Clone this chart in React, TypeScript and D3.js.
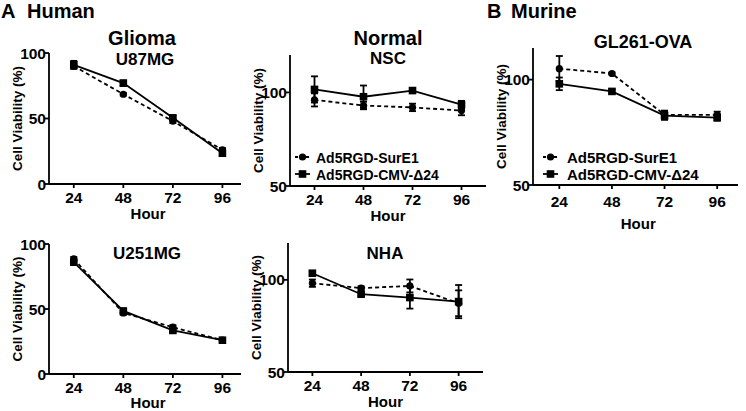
import React from "react";
import * as d3 from "d3";

const hours = [24, 48, 72, 96];
const xTickLabels = ["24", "48", "72", "96"];
const seriesNames = ["Ad5RGD-SurE1", "Ad5RGD-CMV-\u039424"];

const u87SurE1 = [90, 68.5, 48, 26];
const u87SurE1Err = [2, 1, 1.5, 1.5];
const u87Cmv = [91, 77, 50.5, 23.5];
const u87CmvErr = [3, 2, 1.5, 2];

const u251SurE1 = [88.5, 47, 36, 26];
const u251SurE1Err = [1.5, 1.5, 1.5, 1];
const u251Cmv = [86, 48.5, 33.5, 26];
const u251CmvErr = [1.5, 1.5, 1.5, 1];

const nscSurE1 = [96, 93, 92, 90.3];
const nscSurE1Err = [3.5, 2, 2, 2.5];
const nscCmv = [101.6, 97.7, 101, 93.5];
const nscCmvErr = [7, 6, 1, 2];

const nhaSurE1 = [98.2, 95.5, 96.7, 87.3];
const nhaSurE1Err = [2, 1, 3.5, 7];
const nhaCmv = [103.6, 92.2, 90.4, 88.2];
const nhaCmvErr = [1, 1, 6, 9];

const glSurE1 = [105.2, 102.9, 83.3, 83.3];
const glSurE1Err = [6, 0.5, 2, 1.5];
const glCmv = [98, 94.4, 82.9, 82];
const glCmvErr = [3, 1, 2, 1.5];

const gliomaTicks = [0, 50, 100];
const normalTicks = [50, 100];

const FONT = "'Liberation Sans', Arial, sans-serif";
const SW = 1.8;

type PanelProps = {
  left: number; right: number; top: number; bottom: number;
  xMax: number; yDomain: [number, number]; yTicks: number[];
  sure1: number[]; sure1Err: number[]; cmv: number[]; cmvErr: number[];
  title: string; titleX: number; titleY: number; titleSize: number;
  legend?: { x: number; y: number; textX: number; fontSize: number; gap: number };
  tickLabelDy: number; hourDy: number;
};

function Panel(p: PanelProps) {
  const x = d3.scaleLinear().domain([12, p.xMax]).range([p.left, p.right]);
  const y = d3.scaleLinear().domain(p.yDomain).range([p.bottom, p.top]);
  const line = d3.line<number>().x((_, i) => x(hours[i])).y((v) => y(v));
  const hourX = (x(hours[0]) + x(hours[hours.length - 1])) / 2;
  const renderSeries = (vals: number[], errs: number[], dashed: boolean, square: boolean) => (
    <g>
      <path d={line(vals) || ""} fill="none" stroke="#000" strokeWidth={SW} strokeDasharray={dashed ? "4,3" : undefined} />
      {vals.map((v, i) => {
        const cx = x(hours[i]);
        const y1 = y(v + errs[i]);
        const y2 = y(v - errs[i]);
        return (
          <g key={i}>
            <line x1={cx} x2={cx} y1={y1} y2={y2} stroke="#000" strokeWidth={SW} />
            <line x1={cx - 3.5} x2={cx + 3.5} y1={y1} y2={y1} stroke="#000" strokeWidth={SW} />
            <line x1={cx - 3.5} x2={cx + 3.5} y1={y2} y2={y2} stroke="#000" strokeWidth={SW} />
            {square ? (
              <rect x={cx - 3.8} y={y(v) - 3.8} width={7.6} height={7.6} fill="#000" />
            ) : (
              <circle cx={cx} cy={y(v)} r={3.6} fill="#000" />
            )}
          </g>
        );
      })}
    </g>
  );
  return (
    <g fontFamily={FONT} fontWeight="bold" fill="#000">
      <line x1={p.left} x2={p.left} y1={p.top} y2={p.bottom} stroke="#000" strokeWidth={SW} />
      <line x1={p.left} x2={p.right} y1={p.bottom} y2={p.bottom} stroke="#000" strokeWidth={SW} />
      {p.yTicks.map((t) => (
        <g key={t}>
          <line x1={p.left - 4} x2={p.left} y1={y(t)} y2={y(t)} stroke="#000" strokeWidth={SW} />
          <text x={p.left - 3} y={y(t) + 5.5} textAnchor="end" fontSize={15.5}>{t}</text>
        </g>
      ))}
      {hours.map((h, i) => (
        <g key={h}>
          <line x1={x(h)} x2={x(h)} y1={p.bottom} y2={p.bottom + 4} stroke="#000" strokeWidth={SW} />
          <text x={x(h)} y={p.bottom + p.tickLabelDy} textAnchor="middle" fontSize={15.5}>{xTickLabels[i]}</text>
        </g>
      ))}
      <text x={hourX} y={p.bottom + p.hourDy} textAnchor="middle" fontSize={15}>Hour</text>
      <text transform={`translate(${p.left - 27},${(p.top + p.bottom) / 2}) rotate(-90)`} textAnchor="middle" fontSize={13.5}>Cell Viability (%)</text>
      <text x={p.titleX} y={p.titleY} textAnchor="middle" fontSize={p.titleSize}>{p.title}</text>
      {renderSeries(p.sure1, p.sure1Err, true, false)}
      {renderSeries(p.cmv, p.cmvErr, false, true)}
      {p.legend && (
        <g>
          {seriesNames.map((n, i) => {
            const ly = p.legend!.y + i * p.legend!.gap;
            return (
              <g key={n}>
                <line x1={p.legend!.x} x2={p.legend!.x + 15} y1={ly} y2={ly} stroke="#000" strokeWidth={SW} strokeDasharray={i === 0 ? "3,2.5" : undefined} />
                {i === 0 ? (
                  <circle cx={p.legend!.x + 7.5} cy={ly} r={3.6} fill="#000" />
                ) : (
                  <rect x={p.legend!.x + 3.7} y={ly - 3.8} width={7.6} height={7.6} fill="#000" />
                )}
                <text x={p.legend!.textX} y={ly + 5.5} fontSize={p.legend!.fontSize}>{n}</text>
              </g>
            );
          })}
        </g>
      )}
    </g>
  );
}

export default function App() {
  return (
    <svg width={746} height={411} style={{ position: "absolute", left: 0, top: 0, background: "#fff" }}>
      <rect width={746} height={411} fill="#fff" />
      <g fontFamily={FONT} fontWeight="bold" fill="#000">
        <text x={1} y={18} fontSize={20}>A</text>
        <text x={27} y={18} fontSize={20}>Human</text>
        <text x={487} y={18} fontSize={20}>B</text>
        <text x={511} y={18} fontSize={20}>Murine</text>
        <text x={142} y={45} textAnchor="middle" fontSize={20}>Glioma</text>
        <text x={388} y={45} textAnchor="middle" fontSize={20}>Normal</text>
      </g>
      <Panel left={49} right={241} top={53} bottom={184} xMax={105} yDomain={[0, 100]} yTicks={gliomaTicks}
        sure1={u87SurE1} sure1Err={u87SurE1Err} cmv={u87Cmv} cmvErr={u87CmvErr}
        title="U87MG" titleX={145} titleY={65} titleSize={17} tickLabelDy={19} hourDy={35} />
      <Panel left={49} right={241} top={244} bottom={374} xMax={105} yDomain={[0, 100]} yTicks={gliomaTicks}
        sure1={u251SurE1} sure1Err={u251SurE1Err} cmv={u251Cmv} cmvErr={u251CmvErr}
        title="U251MG" titleX={147} titleY={259} titleSize={17} tickLabelDy={19} hourDy={34} />
      <Panel left={290} right={486} top={55} bottom={186} xMax={108} yDomain={[50, 120]} yTicks={normalTicks}
        sure1={nscSurE1} sure1Err={nscSurE1Err} cmv={nscCmv} cmvErr={nscCmvErr}
        title="NSC" titleX={388} titleY={64} titleSize={17}
        legend={{ x: 295, y: 157, textX: 316, fontSize: 14, gap: 17 }}
        tickLabelDy={19} hourDy={35} />
      <Panel left={288} right={483} top={243} bottom={372} xMax={108} yDomain={[50, 120]} yTicks={normalTicks}
        sure1={nhaSurE1} sure1Err={nhaSurE1Err} cmv={nhaCmv} cmvErr={nhaCmvErr}
        title="NHA" titleX={385} titleY={259} titleSize={17} tickLabelDy={19} hourDy={35} />
      <Panel left={533} right={738} top={48} bottom={185} xMax={105.5} yDomain={[50, 115]} yTicks={normalTicks}
        sure1={glSurE1} sure1Err={glSurE1Err} cmv={glCmv} cmvErr={glCmvErr}
        title="GL261-OVA" titleX={643} titleY={48} titleSize={18}
        legend={{ x: 543, y: 157, textX: 567, fontSize: 15, gap: 17 }}
        tickLabelDy={22} hourDy={44} />
    </svg>
  );
}
